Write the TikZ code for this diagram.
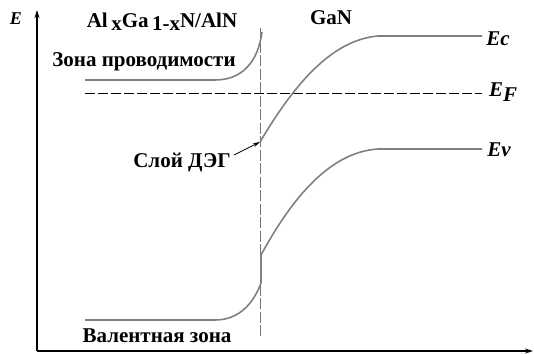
\documentclass[tikz,border=0pt]{standalone}
\usepackage{fontspec}
\setmainfont{Liberation Serif}
\usetikzlibrary{arrows.meta}
\begin{document}
\begin{tikzpicture}[x=1pt,y=-1pt,
  band/.style={draw=black!50, line width=1.6pt},
  axis/.style={draw=black, line width=1.3pt, -{Stealth[length=8pt,width=5pt]}},
  lbl/.style={font=\bfseries\fontsize{21}{23}\selectfont, inner sep=0pt},
  ilbl/.style={font=\bfseries\itshape\fontsize{21}{23}\selectfont, inner sep=0pt}]
\useasboundingbox (0,0) rectangle (534,353);
% axes
\coordinate (O) at (37,351);
\coordinate (Ytop) at (37,10);
\coordinate (Xend) at (533,351);
\draw[axis] (O) -- (Ytop);
\draw[axis] (O) -- (Xend);
\node[font=\bfseries\itshape\fontsize{18}{20}\selectfont, inner sep=0pt] (E) at (16,19) {E};
% interface dashed line
\coordinate (Itop) at (260,28);
\coordinate (Ibot) at (260,338);
\draw[black!55, line width=1pt, dash pattern=on 11pt off 2.5pt] (Itop) -- (Ibot);
% Fermi level
\coordinate (F1) at (85,93);
\coordinate (F2) at (482,93);
\draw[black, line width=0.8pt, dash pattern=on 10pt off 3pt] (F1) -- (F2);
% conduction band
\draw[band] (85,80) -- (215,80) .. controls (242,80) and (258,62) .. (262,32);
\coordinate (DEG) at (260,142);
\draw[band] (DEG) .. controls (292,88) and (330,40) .. (378,36) -- (482,36);
% valence band
\draw[band] (85,320) -- (215,320) .. controls (240,320) and (254,302) .. (261,283) -- (261,255)
  .. controls (292,198) and (330,152) .. (378,149) -- (482,149);
% labels
\node[lbl] (top) at (162,22) {Al\raisebox{-0.35ex}{\,x}Ga\raisebox{-0.35ex}{\,1-x}N/AlN};
\node[lbl] (gan) at (331,18) {GaN};
\node[lbl] (cb) at (144,62) {Зона проводимости};
\node[lbl] (vb) at (157,336) {Валентная зона};
\node[ilbl] (ec) at (498,39) {Ec};
\node[ilbl] (ef) at (503,92) {E\raisebox{-0.45ex}{F}};
\node[ilbl] (ev) at (499,150) {Ev};
\node[lbl] (deg) at (182,163) {Слой ДЭГ};
\draw[black, line width=0.8pt, -{Stealth[length=7pt,width=4pt]}] ([shift={(3,-8)}]deg.east) -- (DEG);
\end{tikzpicture}
\end{document}
